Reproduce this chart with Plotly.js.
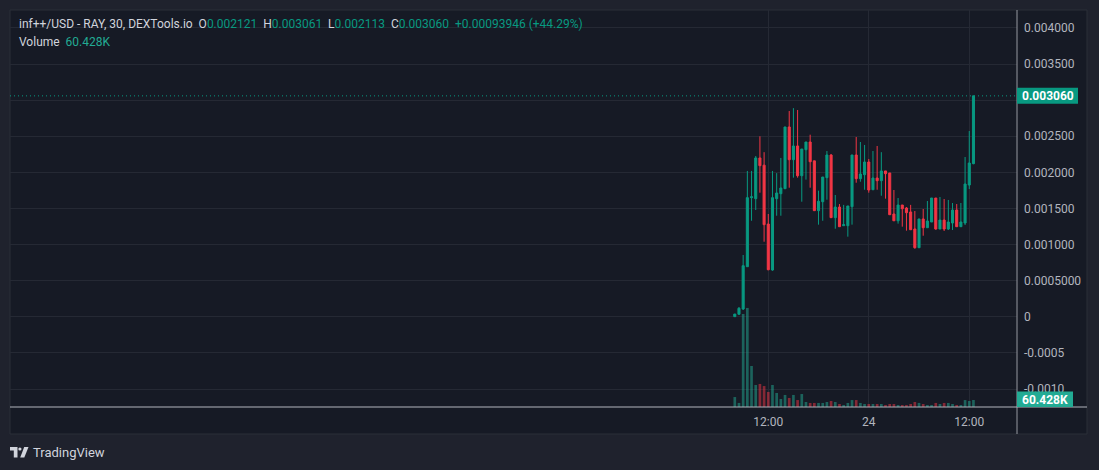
<!DOCTYPE html>
<html><head><meta charset="utf-8">
<script src="https://cdn.plot.ly/plotly-3.0.1.min.js"></script>
<style>html,body{margin:0;padding:0;background:#1f222d;overflow:hidden}#chart{width:1099px;height:470px}</style>
</head><body><div id="chart"></div>
<script>
// ---- data (30-minute candles, inf++/USD) ----
const startTimeUTC = Date.UTC(2024, 4, 23, 8, 0); // first candle
const candleMinutes = 30;
const openVals  = [0.000002,0.000035,0.000108,0.000694,0.001650,0.001636,0.002200,0.002100,0.001285,0.000648,
                   0.001636,0.001705,0.001774,0.002629,0.002176,0.002366,0.001954,0.002314,0.002421,0.002160,
                   0.001470,0.001594,0.001927,0.002241,0.001373,0.001520,0.001262,0.001262,0.001525,0.002241,
                   0.001913,0.001968,0.002144,0.001760,0.001922,0.001885,0.002020,0.001992,0.001424,0.001330,
                   0.001548,0.001507,0.001452,0.001216,0.000957,0.001355,0.001234,0.001313,0.001645,0.001216,
                   0.001340,0.001216,0.001299,0.001479,0.001248,0.001299,0.001825,0.002121];
const highVals  = [0.000040,0.000136,0.000856,0.002020,0.002020,0.002227,0.002500,0.002280,0.001424,0.002020,
                   0.001990,0.002200,0.002630,0.002850,0.002890,0.002864,0.002324,0.002421,0.002522,0.002160,
                   0.001747,0.001936,0.002296,0.002255,0.001687,0.001562,0.001550,0.001535,0.002241,0.002490,
                   0.002421,0.002380,0.002186,0.002296,0.002366,0.002280,0.002020,0.001992,0.001756,0.001645,
                   0.001548,0.001520,0.001550,0.001465,0.001355,0.001493,0.001604,0.001645,0.001645,0.001659,
                   0.001631,0.001618,0.001576,0.001562,0.001576,0.002213,0.002573,0.003061];
const lowVals   = [0.000002,0.000030,0.000094,0.000694,0.001330,0.001479,0.001719,0.001040,0.000645,0.000638,
                   0.001400,0.001400,0.001770,0.001788,0.001927,0.001927,0.001594,0.001900,0.001788,0.001470,
                   0.001276,0.001330,0.001622,0.001373,0.001220,0.001248,0.001262,0.001110,0.001276,0.001857,
                   0.001871,0.001760,0.001719,0.001760,0.001760,0.001677,0.001636,0.001414,0.001330,0.001290,
                   0.001248,0.001193,0.001206,0.000943,0.000957,0.001123,0.001234,0.001313,0.001206,0.001216,
                   0.001188,0.001202,0.001202,0.001248,0.001248,0.001271,0.001770,0.002113];
const closeVals = [0.000038,0.000118,0.000708,0.001650,0.001662,0.002200,0.002093,0.001276,0.000652,0.001650,
                   0.001715,0.001784,0.002629,0.002176,0.002366,0.001954,0.002324,0.002421,0.002148,0.001470,
                   0.001600,0.001936,0.002241,0.001373,0.001520,0.001248,0.001276,0.001535,0.002241,0.001913,
                   0.001978,0.002144,0.001756,0.001922,0.001885,0.002020,0.001982,0.001414,0.001330,0.001548,
                   0.001497,0.001442,0.001206,0.000957,0.001355,0.001234,0.001327,0.001645,0.001216,0.001340,
                   0.001216,0.001313,0.001479,0.001248,0.001313,0.001839,0.002130,0.003060];
const volumeVals = [86000,35000,803000,855000,354000,190000,199000,181000,130000,190000,
                    121000,69000,104000,78000,104000,60000,112000,43000,35000,35000,
                    35000,35000,43000,52000,43000,26000,17000,35000,60000,60000,
                    35000,26000,26000,26000,26000,26000,17000,26000,26000,17000,
                    17000,17000,26000,43000,35000,26000,17000,17000,35000,26000,
                    35000,35000,26000,17000,17000,60000,52000,60428];
const timeTickVals = [Date.UTC(2024,4,23,12,0), Date.UTC(2024,4,24,0,0), Date.UTC(2024,4,24,12,0)];
const timeTickText = ['12:00','24','12:00'];
const priceTickVals = [-0.001,-0.0005,0,0.0005,0.001,0.0015,0.002,0.0025,0.003,0.0035,0.004];
const priceTickText = ['-0.0010','-0.0005','0','0.0005000','0.001000','0.001500','0.002000','0.002500','','0.003500','0.004000'];
const headerSymbol = 'inf++/USD - RAY, 30, DEXTools.io';
const headerChange = '+0.00093946 (+44.29%)';
const lastVolumeText = '60.428K';

// ---- derived ----
const stepMs = candleMinutes * 60000;
const times = openVals.map((_, i) => startTimeUTC + i * stepMs);
const n = times.length;
const lastClose = closeVals[n - 1];
const fmt6 = v => v.toFixed(6);

const GREEN = '#089981', RED = '#f23645';
const volColors = closeVals.map((c, i) => c >= openVals[i] ? 'rgba(34,171,148,0.5)' : 'rgba(242,54,69,0.5)');

// pixel helpers for layout placement
const PL = 10, PR = 1017, PT = 10, PB = 407;
const px = x => (x - PL) / (PR - PL);
const py = y => (PB - y) / (PB - PT);

const FONT = 'Roboto, "Liberation Sans", sans-serif';
const TXT = '#d1d4dc', AX = '#b2b5be', GRID = '#252934';

const volTrace = {
  type: 'bar', x: times, y: volumeVals, yaxis: 'y2',
  marker: {color: volColors, line: {width: 0}},
  width: stepMs * 0.64, hoverinfo: 'skip'
};
const candleTrace = {
  type: 'candlestick', x: times, open: openVals, high: highVals, low: lowVals, close: closeVals,
  increasing: {line: {color: GREEN, width: 1}, fillcolor: GREEN},
  decreasing: {line: {color: RED, width: 1}, fillcolor: RED},
  whiskerwidth: 0, hoverinfo: 'skip'
};

const halfHour = stepMs;
const layout = {
  width: 1099, height: 470,
  margin: {l: PL, r: 1099 - PR, t: PT, b: 470 - PB, pad: 0},
  paper_bgcolor: '#1f222d', plot_bgcolor: '#161a25',
  showlegend: false, dragmode: false, hovermode: false,
  font: {family: FONT, size: 12, color: AX},
  xaxis: {
    type: 'date', range: [startTimeUTC - 173.1 * halfHour, startTimeUTC + 67.4 * halfHour],
    tickvals: timeTickVals, ticktext: timeTickText,
    showgrid: true, gridcolor: GRID, gridwidth: 1, zeroline: false, showline: false,
    ticks: '', tickfont: {family: FONT, size: 12, color: AX},
    rangeslider: {visible: false}, fixedrange: true, ticklabelstandoff: 6
  },
  yaxis: {
    side: 'right', range: [-0.001249, 0.004249],
    tickvals: priceTickVals, ticktext: priceTickText,
    showgrid: true, gridcolor: GRID, gridwidth: 1, zeroline: false, showline: false,
    ticks: '', tickfont: {family: FONT, size: 12, color: AX}, fixedrange: true, ticklabelstandoff: 6
  },
  yaxis2: {overlaying: 'y', range: [0, 3427000], visible: false, fixedrange: true},
  shapes: [
    // pane frame
    {type: 'rect', xref: 'paper', yref: 'paper', x0: px(10), x1: px(1087), y0: py(434), y1: py(10),
     fillcolor: '#161a25', line: {color: '#2a2e39', width: 1}, layer: 'below'},
    // separators
    {type: 'line', xref: 'paper', yref: 'paper', x0: 1, x1: 1, y0: py(434), y1: py(10),
     line: {color: '#9598a1', width: 1}, layer: 'above'},
    {type: 'line', xref: 'paper', yref: 'paper', x0: 0, x1: px(1087), y0: 0, y1: 0,
     line: {color: '#b2b5be', width: 1}, layer: 'above'},
    // last price dotted line
    {type: 'line', xref: 'paper', yref: 'y', x0: 0, x1: 1, y0: lastClose, y1: lastClose,
     line: {color: GREEN, width: 1, dash: '1px,3px'}, layer: 'above'},
    // last price label box
    {type: 'rect', xref: 'paper', yref: 'y', ysizemode: 'pixel', yanchor: lastClose,
     x0: px(1017), x1: px(1078), y0: -8, y1: 8, fillcolor: GREEN, line: {width: 0}, layer: 'above'},
    // volume label box
    {type: 'rect', xref: 'paper', yref: 'paper', x0: px(1017), x1: px(1073), y0: py(407), y1: py(391.5),
     fillcolor: '#22ab94', line: {width: 0}, layer: 'above'},
    // TradingView logo mark
    {type: 'path', xref: 'paper', yref: 'paper', fillcolor: TXT, line: {width: 0},
     path: `M${px(10)},${py(447)} L${px(17.5)},${py(447)} L${px(17.5)},${py(457.5)} L${px(13.8)},${py(457.5)} L${px(13.8)},${py(450.6)} L${px(10)},${py(450.6)} Z`},
    {type: 'circle', xref: 'paper', yref: 'paper', fillcolor: TXT, line: {width: 0},
     x0: px(18.3), x1: px(21.5), y0: py(450.6), y1: py(447.4)},
    {type: 'path', xref: 'paper', yref: 'paper', fillcolor: TXT, line: {width: 0},
     path: `M${px(24.2)},${py(447)} L${px(28.5)},${py(447)} L${px(24.3)},${py(457.5)} L${px(20.2)},${py(457.5)} Z`}
  ],
  annotations: [
    {xref: 'paper', yref: 'paper', x: px(17), y: py(24), xanchor: 'left', yanchor: 'middle', showarrow: false,
     font: {family: FONT, size: 12, color: TXT},
     text: `${headerSymbol}  O<span style="color:${GREEN}">${fmt6(openVals[n-1])}</span>  H<span style="color:${GREEN}">${fmt6(highVals[n-1])}</span>  L<span style="color:${GREEN}">${fmt6(lowVals[n-1])}</span>  C<span style="color:${GREEN}">${fmt6(closeVals[n-1])}</span>  <span style="color:${GREEN}">${headerChange}</span>`},
    {xref: 'paper', yref: 'paper', x: px(17), y: py(42), xanchor: 'left', yanchor: 'middle', showarrow: false,
     font: {family: FONT, size: 12, color: TXT},
     text: `Volume  <span style="color:#22ab94">${lastVolumeText}</span>`},
    {xref: 'paper', yref: 'y', x: px(1047.5), y: lastClose, xanchor: 'center', yanchor: 'middle', showarrow: false,
     font: {family: FONT, size: 12, color: '#ffffff', weight: 'bold'}, text: fmt6(lastClose)},
    {xref: 'paper', yref: 'paper', x: px(1045), y: py(399.5), xanchor: 'center', yanchor: 'middle', showarrow: false,
     font: {family: FONT, size: 12, color: '#ffffff', weight: 'bold'}, text: lastVolumeText},
    {xref: 'paper', yref: 'paper', x: px(31), y: py(452.5), xanchor: 'left', yanchor: 'middle', showarrow: false,
     font: {family: FONT, size: 13, color: TXT}, text: 'TradingView'}
  ]
};

Plotly.newPlot('chart', [volTrace, candleTrace], layout, {displayModeBar: false, staticPlot: true});
</script></body></html>
